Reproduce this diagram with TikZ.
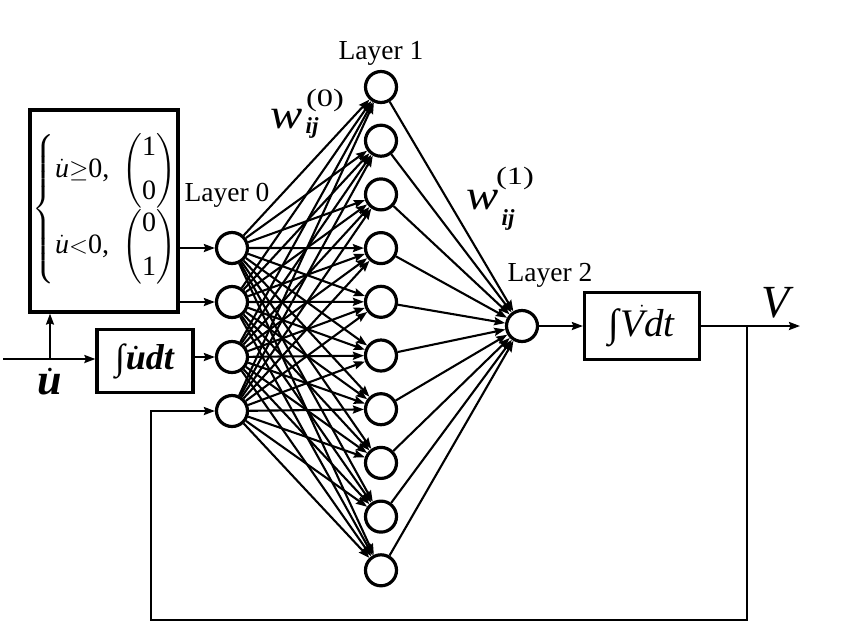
\documentclass[tikz,border=0pt]{standalone}
\usepackage{amsmath}
\usepackage{graphicx}
\usepackage{fontspec}
\setmainfont{Liberation Serif}
\usetikzlibrary{arrows.meta}
\begin{document}
\begin{tikzpicture}[x=1pt,y=-1pt,
  neuron/.style={circle,draw,line width=3.2pt,minimum size=31pt,inner sep=0pt},
  blk/.style={draw,line width=3.2pt,inner sep=0pt},
  conn/.style={line width=2.1pt,-{Stealth[length=11pt,width=8pt,inset=1.5pt]}},
  lbl/.style={font=\fontsize{27.5}{30}\selectfont,inner sep=0pt},
  wmain/.style={font=\fontsize{42}{46}\selectfont\itshape,inner sep=0pt},
  wsup/.style={font=\fontsize{25}{28}\selectfont,inner sep=0pt},
  wsub/.style={font=\fontsize{23}{26}\selectfont\bfseries\itshape,inner sep=0pt}]
\useasboundingbox (0,0) rectangle (850,638);

% neurons
\foreach \i/\y in {1/248,2/302,3/357,4/411}
  \node[neuron] (a\i) at (232,\y) {};
\foreach \j in {1,...,10}
  \node[neuron] (b\j) at (381,{87+53.7*(\j-1)}) {};
\node[neuron] (c) at (522,326) {};

% connections
\foreach \i in {1,...,4}
  \foreach \j in {1,...,10}
    \draw[conn] (a\i) -- (b\j);
\foreach \j in {1,...,10}
  \draw[conn] (b\j) -- (c);

% selector box
\node[blk,minimum width=148pt,minimum height=202pt] (sel) at (104,211) {};
\node[inner sep=0pt] (cases) at (105,209) {\fontsize{28}{32}\selectfont
$\left\{\begin{array}{@{}l@{\hspace{13pt}}c@{}}
\dot{\textit{u}}{\geq}\text{0,} & \left(\begin{array}{@{}c@{}}\text{1}\\[12pt]\text{0}\end{array}\right)\\[4pt]
\dot{\textit{u}}{<}\text{0,} & \left(\begin{array}{@{}c@{}}\text{0}\\[12pt]\text{1}\end{array}\right)
\end{array}\right.$};

% integrator boxes
\node[blk,minimum width=96pt,minimum height=63pt,font=\fontsize{36}{40}\selectfont] (int1) at (145,361)
  {∫\kern1pt\textbf{\textit{$\boldmath\dot{\textbf{\textit{u}}}$dt}}};
\node[blk,minimum width=115pt,minimum height=67pt,font=\fontsize{39}{44}\selectfont] (int2) at (642,326)
  {∫\kern1pt\textit{$\skew{14}{\dot}{\textit{V}}$dt}};

% input
\coordinate (inL) at (3,359);
\coordinate (br) at (50,359);
\draw[conn] (inL) -- (inL -| int1.west);
\draw[conn] (br) -- (br |- sel.south);
\node[font=\fontsize{44}{48}\selectfont\boldmath] (ud) at (50,382) {$\dot{\textbf{\textit{u}}}$};

\draw[conn] (int1.east |- a3) -- (a3);
\draw[conn] (sel.east |- a1) -- (a1);
\draw[conn] (sel.east |- a2) -- (a2);

% output
\draw[conn] (c) -- (int2);
\coordinate (out) at (800,326);
\draw[conn] (int2.east) -- (out);
\node[font=\fontsize{46}{50}\selectfont] (vl) at (778,303) {\textit{V}};

% feedback
\coordinate (fb) at (747,326);
\coordinate (fbb) at (747,620);
\coordinate (fbl) at (151,620);
\draw[conn] (fb) -- (fbb) -- (fbl) |- (a4);

% labels
\node[lbl] (l0) at (227,195) {Layer 0};
\node[lbl] (l1) at (381,53) {Layer 1};
\node[lbl] (l2) at (550,275) {Layer 2};
\node[wmain] (w0) at (287,119) {\scalebox{1.15}[1]{w}};
\node[wsup] (w0s) at (325,100) {\scalebox{1.3}[1]{(0)}};
\node[wsub] (w0b) at (312,128) {ij};
\node[wmain] (w1) at (483,200) {\scalebox{1.15}[1]{w}};
\node[wsup] (w1s) at (515,178) {\scalebox{1.3}[1]{(1)}};
\node[wsub] (w1b) at (508,220) {ij};
\end{tikzpicture}
\end{document}
